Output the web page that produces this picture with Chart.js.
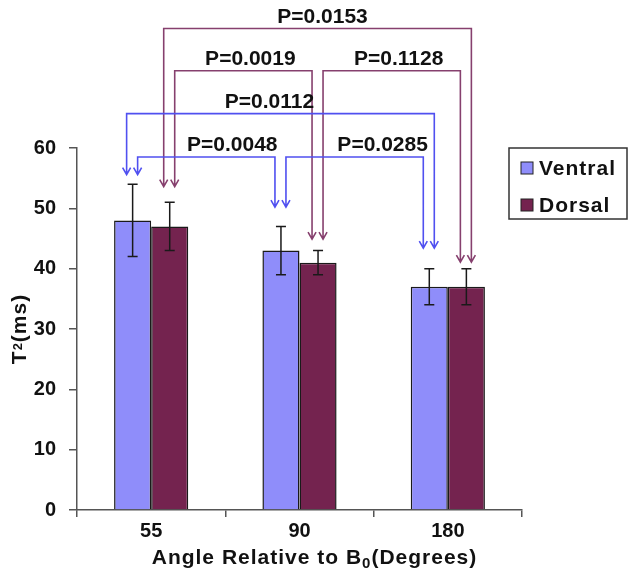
<!DOCTYPE html>
<html>
<head>
<meta charset="utf-8">
<title>T2 selon l'angle</title>
<script src="https://cdn.jsdelivr.net/npm/chart.js@4/dist/chart.umd.min.js"></script>
<style>
  body { margin: 0; background: #fff; }
  canvas { display: block; }
</style>
</head>
<body>
<canvas id="graphique" width="635" height="575"></canvas>
<script>
// Données
const angles = ["55", "90", "180"];
const ventral = [48, 43, 37];
const dorsal = [47, 41, 37];
const ventralErr = [6, 4, 3];
const dorsalErr = [4, 2, 3];

// Pointe des flèches au-dessus de chaque barre (en ms)
const ventralArrowTip = [55.6, 50.2, 43.4];
const dorsalArrowTip = [53.6, 44.9, 41.1];

// Comparaisons : [catégorie, série] de départ / d'arrivée, niveau du trait (ms)
const compLabels = ["P=0.0153", "P=0.0019", "P=0.1128", "P=0.0112", "P=0.0048", "P=0.0285"];
const compFrom = [[0, 1], [0, 1], [1, 1], [0, 0], [0, 0], [1, 0]];
const compTo = [[2, 1], [1, 1], [2, 1], [2, 0], [1, 0], [2, 0]];
const compLevel = [79.8, 72.8, 72.8, 65.7, 58.5, 58.5];
const compLabelDx = [5, 7, 7, -11, 26, 28];

const FONT = "'Liberation Sans', Arial, sans-serif";
const COLORS = ["#8F8DFA", "#74234F"];
const LINK_COLORS = ["#5050F0", "#86406E"];

const errorBars = {
    id: "errorBars",
    afterDatasetsDraw(chart) {
        const ctx = chart.ctx;
        const y = chart.scales.y;
        const errs = [ventralErr, dorsalErr];
        ctx.save();
        ctx.strokeStyle = "#1a1a1a";
        ctx.lineWidth = 1.5;
        chart.data.datasets.forEach((ds, i) => {
            chart.getDatasetMeta(i).data.forEach((bar, j) => {
                const top = y.getPixelForValue(ds.data[j] + errs[i][j]);
                const bot = y.getPixelForValue(ds.data[j] - errs[i][j]);
                ctx.beginPath();
                ctx.moveTo(bar.x, top); ctx.lineTo(bar.x, bot);
                ctx.moveTo(bar.x - 5, top); ctx.lineTo(bar.x + 5, top);
                ctx.moveTo(bar.x - 5, bot); ctx.lineTo(bar.x + 5, bot);
                ctx.stroke();
            });
        });
        ctx.restore();
    }
};

const comparisons = {
    id: "comparisons",
    afterDraw(chart) {
        const ctx = chart.ctx;
        const y = chart.scales.y;
        const tips = [ventralArrowTip, dorsalArrowTip];
        const arrow = (x, yTip) => {
            ctx.moveTo(x - 4, yTip - 7); ctx.lineTo(x, yTip); ctx.lineTo(x + 4, yTip - 7);
        };
        ctx.save();
        ctx.lineWidth = 1.6;
        compLabels.forEach((label, k) => {
            const [c1, s1] = compFrom[k];
            const [c2, s2] = compTo[k];
            const wide = c2 - c1 > 1; // les grands crochets passent à l'extérieur
            const x1 = chart.getDatasetMeta(s1).data[c1].x + (wide ? -6 : 5);
            const x2 = chart.getDatasetMeta(s2).data[c2].x + (wide ? 5 : -6);
            const yl = y.getPixelForValue(compLevel[k]);
            const t1 = y.getPixelForValue(tips[s1][c1]);
            const t2 = y.getPixelForValue(tips[s2][c2]);
            ctx.strokeStyle = LINK_COLORS[s1];
            ctx.beginPath();
            ctx.moveTo(x1, t1); ctx.lineTo(x1, yl); ctx.lineTo(x2, yl); ctx.lineTo(x2, t2);
            arrow(x1, t1); arrow(x2, t2);
            ctx.stroke();

            ctx.fillStyle = "#111";
            ctx.font = "bold 21px " + FONT;
            ctx.textAlign = "center";
            ctx.textBaseline = "alphabetic";
            ctx.fillText(label, (x1 + x2) / 2 + compLabelDx[k], yl - 6);
        });
        ctx.restore();
    }
};

// Titres des axes avec indices, et légende encadrée
const decorations = {
    id: "decorations",
    afterDraw(chart) {
        const ctx = chart.ctx;
        const area = chart.chartArea;
        ctx.save();
        ctx.fillStyle = "#111";
        ctx.letterSpacing = "1px";
        ctx.textAlign = "left";
        ctx.textBaseline = "alphabetic";

        // Titre Y : T2(ms)
        const big = "bold 21px " + FONT, small = "bold 13px " + FONT;
        ctx.font = big; const wT = ctx.measureText("T").width, wR = ctx.measureText("(ms)").width;
        ctx.font = small; const w2 = ctx.measureText("2").width;
        ctx.translate(26, (area.top + area.bottom) / 2);
        ctx.rotate(-Math.PI / 2);
        let x = -(wT + w2 + wR) / 2;
        ctx.font = big; ctx.fillText("T", x, 0); x += wT;
        ctx.font = small; ctx.fillText("2", x, -4); x += w2;
        ctx.font = big; ctx.fillText("(ms)", x, 0);
        ctx.setTransform(1, 0, 0, 1, 0, 0);

        // Titre X : Angle Relative to B0(Degrees)
        const sub = "bold 15px " + FONT;
        ctx.font = big; const wA = ctx.measureText("Angle Relative to B").width, wD = ctx.measureText("(Degrees)").width;
        ctx.font = sub; const w0 = ctx.measureText("0").width;
        x = (area.left + area.right) / 2 + 15 - (wA + w0 + wD) / 2;
        const yb = 564;
        ctx.font = big; ctx.fillText("Angle Relative to B", x, yb); x += wA;
        ctx.font = sub; ctx.fillText("0", x, yb + 4); x += w0;
        ctx.font = big; ctx.fillText("(Degrees)", x, yb);

        // Légende
        ctx.strokeStyle = "#333";
        ctx.lineWidth = 1.5;
        ctx.strokeRect(509, 148, 118, 71);
        ctx.textBaseline = "middle";
        ctx.font = big;
        chart.data.datasets.forEach((ds, i) => {
            const cy = 168 + i * 37;
            ctx.fillStyle = ds.backgroundColor;
            ctx.fillRect(521, cy - 6, 12, 12);
            ctx.strokeStyle = "#222";
            ctx.lineWidth = 1;
            ctx.strokeRect(521, cy - 6, 12, 12);
            ctx.fillStyle = "#111";
            ctx.fillText(ds.label, 539, cy + 1);
        });
        ctx.restore();
    }
};

const ctx = document.getElementById("graphique").getContext("2d");
const tickFont = (size) => ({ family: FONT, size: size, weight: "bold" });

new Chart(ctx, {
    type: "bar",
    data: {
        labels: angles,
        datasets: [
            { label: "Ventral", data: ventral, backgroundColor: COLORS[0], borderColor: "#1a1a1a", borderWidth: 1.5 },
            { label: "Dorsal", data: dorsal, backgroundColor: COLORS[1], borderColor: "#1a1a1a", borderWidth: 1.5 }
        ]
    },
    options: {
        responsive: false,
        animation: false,
        layout: { padding: { top: 148, right: 113, left: 0, bottom: 0 } },
        datasets: { bar: { barPercentage: 1, categoryPercentage: 0.5 } },
        plugins: { legend: { display: false }, tooltip: { enabled: false } },
        scales: {
            x: {
                grid: { offset: true, drawOnChartArea: false, color: "#555", lineWidth: 1.5, tickLength: 7 },
                border: { color: "#555", width: 1.5 },
                ticks: { color: "#111", font: tickFont(20), padding: 2 },
                afterFit: (s) => { s.height = 65; }
            },
            y: {
                min: 0,
                max: 60,
                grid: { drawOnChartArea: false, color: "#555", lineWidth: 1.5, tickLength: 8 },
                border: { color: "#555", width: 1.5 },
                ticks: { stepSize: 10, color: "#111", font: tickFont(20), padding: 13 },
                afterFit: (s) => { s.width = 77; }
            }
        }
    },
    plugins: [errorBars, comparisons, decorations]
});
</script>
</body>
</html>
